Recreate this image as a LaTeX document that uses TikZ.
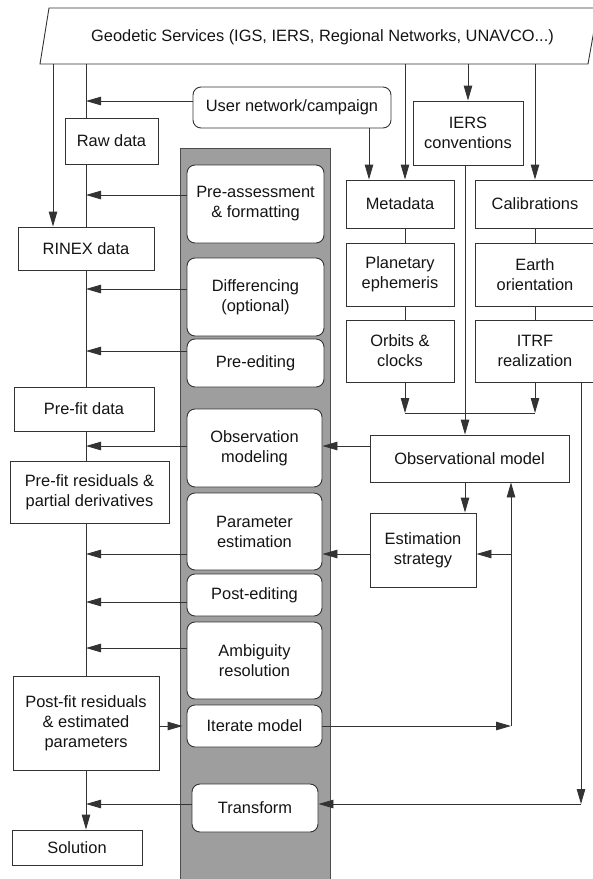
\documentclass[tikz,border=0pt]{standalone}
\usepackage{fontspec}
\setmainfont{Liberation Sans}
\usetikzlibrary{arrows.meta}
\begin{document}
\begin{tikzpicture}[x=1pt,y=-1pt,
  every node/.style={font=\fontsize{16.4}{20}\selectfont, text=black!92, inner sep=0pt},
  sqbox/.style={draw=black!80, line width=0.9pt, fill=white, align=center},
  rbox/.style={draw=black!80, line width=0.9pt, fill=white, rounded corners=8pt, align=center},
  ln/.style={draw=black!80, line width=0.9pt},
  arr/.style={ln, -{Triangle[length=15pt,width=8.5pt]}}]
\useasboundingbox (0,0) rectangle (593,879);
% gray processing column
\filldraw[fill=black!38, draw=black!70, line width=1pt] (180,148) rectangle (330,885);
% top parallelogram
\draw[ln] (49,8) -- (598,8) -- (588,64) -- (40,64) -- cycle;
\node (geo) at (322.5,37) {Geodetic Services (IGS, IERS, Regional Networks, UNAVCO...)};
% reference coordinates of the vertical connector lines
\coordinate (G) at (0,64);
\coordinate (L) at (86,0);
\coordinate (R0) at (53,0);
\coordinate (M) at (405,0);
\coordinate (U) at (369,0);
\coordinate (I) at (465,0);
\coordinate (J) at (511,726);
\coordinate (K) at (581,0);
\coordinate (K2) at (581,804);
\coordinate (H) at (0,413);
% left data boxes
\node[sqbox, minimum width=93pt, minimum height=46pt] (raw) at (111.5,141) {Raw data};
\node[sqbox, minimum width=136pt, minimum height=43pt] (rinex) at (86,248.5) {RINEX data};
\node[sqbox, minimum width=140pt, minimum height=44pt] (prefit) at (84,409) {Pre-fit data};
\node[sqbox, minimum width=159pt, minimum height=62pt] (prefitres) at (89.5,492) {Pre-fit residuals \&\\partial derivatives};
\node[sqbox, minimum width=146pt, minimum height=94pt] (postfit) at (86,723) {Post-fit residuals\\\& estimated\\parameters};
\node[sqbox, minimum width=130pt, minimum height=35pt] (solution) at (77,847.5) {Solution};
% user box
\node[rbox, minimum width=198pt, minimum height=41pt] (user) at (292,107.5) {User network/campaign};
% processing steps
\node[rbox, minimum width=137pt, minimum height=78pt] (preassess) at (255.5,204) {Pre-assessment\\\& formatting};
\node[rbox, minimum width=137pt, minimum height=78pt] (diff) at (255.5,297) {Differencing\\(optional)};
\node[rbox, minimum width=137pt, minimum height=48pt] (preedit) at (255.5,363) {Pre-editing};
\node[rbox, minimum width=135pt, minimum height=78pt] (obsmod) at (254.5,448) {Observation\\modeling};
\node[rbox, minimum width=135pt, minimum height=77pt] (param) at (254.5,531.5) {Parameter\\estimation};
\node[rbox, minimum width=135pt, minimum height=42pt] (postedit) at (254.5,595) {Post-editing};
\node[rbox, minimum width=135pt, minimum height=77pt] (ambig) at (254.5,660.5) {Ambiguity\\resolution};
\node[rbox, minimum width=135pt, minimum height=42pt] (iter) at (254.5,726) {Iterate model};
\node[rbox, minimum width=126pt, minimum height=48pt] (transform) at (255,808) {Transform};
% right side model boxes
\node[sqbox, minimum width=110pt, minimum height=64pt] (ierc) at (468,133) {IERS\\conventions};
\node[sqbox, minimum width=108pt, minimum height=48pt] (meta) at (400,204) {Metadata};
\node[sqbox, minimum width=120pt, minimum height=48pt] (calib) at (535,204) {Calibrations};
\node[sqbox, minimum width=108pt, minimum height=63pt] (planet) at (400,274.5) {Planetary\\ephemeris};
\node[sqbox, minimum width=120pt, minimum height=63pt] (earth) at (535,274.5) {Earth\\orientation};
\node[sqbox, minimum width=108pt, minimum height=62pt] (orbits) at (400,351) {Orbits \&\\clocks};
\node[sqbox, minimum width=120pt, minimum height=62pt] (itrf) at (535,351) {ITRF\\realization};
\node[sqbox, minimum width=199pt, minimum height=47pt] (obsmodel) at (469.5,458.5) {Observational model};
\node[sqbox, minimum width=106pt, minimum height=74pt] (eststrat) at (423,550) {Estimation\\strategy};
% lines from the geodetic services
\draw[arr] (R0 |- G) -- (R0 |- rinex.north);
\draw[ln] (L |- G) -- (L |- raw.north);
\draw[arr] (M |- G) -- (M |- meta.north);
\draw[arr] (ierc.north |- G) -- (ierc.north);
\draw[arr] (calib.north |- G) -- (calib.north);
\draw[arr] (U |- user.south) -- (U |- meta.north);
% main data line
\draw[ln] (L |- raw.south) -- (L |- rinex.north);
\draw[ln] (L |- rinex.south) -- (L |- prefit.north);
\draw[ln] (L |- prefit.south) -- (L |- prefitres.north);
\draw[ln] (L |- prefitres.south) -- (L |- postfit.north);
\draw[arr] (L |- postfit.south) -- (L |- solution.north);
% arrows to the data line
\draw[arr] ([yshift=6.5pt]user.west) -- ([yshift=6.5pt]user.west -| L);
\draw[arr] ([yshift=9pt]preassess.west) -- ([yshift=9pt]preassess.west -| L);
\draw[arr] ([yshift=8pt]diff.west) -- ([yshift=8pt]diff.west -| L);
\draw[arr] ([yshift=12pt]preedit.west) -- ([yshift=12pt]preedit.west -| L);
\draw[arr] ([yshift=2pt]obsmod.west) -- ([yshift=2pt]obsmod.west -| L);
\draw[arr] ([yshift=-22.5pt]param.west) -- ([yshift=-22.5pt]param.west -| L);
\draw[arr] ([yshift=-7pt]postedit.west) -- ([yshift=-7pt]postedit.west -| L);
\draw[arr] ([yshift=12.5pt]ambig.west) -- ([yshift=12.5pt]ambig.west -| L);
\draw[arr] ([yshift=4pt]transform.west) -- ([yshift=4pt]transform.west -| L);
\draw[arr, shorten >=4pt] ([yshift=-3pt]postfit.east) -- (iter.west);
% model chains
\draw[ln] (M |- meta.south) -- (M |- planet.north);
\draw[ln] (M |- planet.south) -- (M |- orbits.north);
\draw[ln] (calib.south) -- (earth.north);
\draw[ln] (earth.south) -- (itrf.north);
\draw[arr] (M |- orbits.south) -- (M |- H);
\draw[arr] (itrf.south) -- (itrf.south |- H);
\draw[ln] (M |- H) -- (itrf.south |- H);
\draw[arr] (I |- ierc.south) -- (I |- obsmodel.north);
\draw[arr] (I |- obsmodel.south) -- (I |- eststrat.north);
\draw[arr] ([yshift=12.5pt]obsmodel.west) -- ([yshift=12.5pt]obsmodel.west -| obsmod.east);
\draw[arr] ([yshift=-4pt]eststrat.west) -- ([yshift=-4pt]eststrat.west -| param.east);
% iteration loop
\draw[arr] (iter.east) -- (J);
\draw[arr] (J) -- (J |- obsmodel.south);
\draw[arr] ([yshift=-4pt]eststrat.east -| J) -- ([yshift=-4pt]eststrat.east);
% transform input
\draw[arr] (K |- itrf.south) -- (K2);
\draw[arr] (K2) -- (K2 -| transform.east);
\end{tikzpicture}
\end{document}
